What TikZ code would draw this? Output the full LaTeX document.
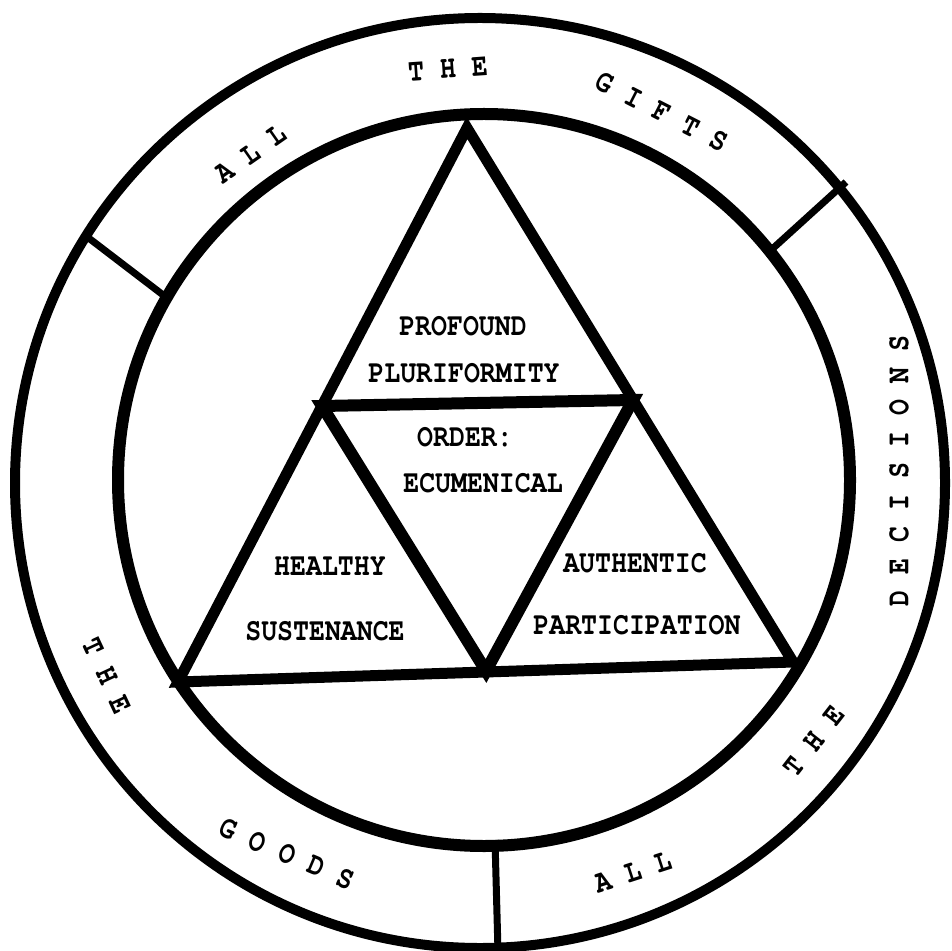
\documentclass[tikz,border=0pt]{standalone}
\usepackage{fontspec}
\newfontfamily\labelfont[FakeStretch=0.83]{TeX Gyre Cursor}
\newfontfamily\ringfont[FakeStretch=0.83]{TeX Gyre Cursor}
\begin{document}
\begin{tikzpicture}[x=0.5pt,y=-0.5pt,
  ringline/.style={draw=black,line width=5pt},
  innerline/.style={draw=black,line width=6pt},
  triline/.style={draw=black,line width=5.5pt,line join=miter},
  midline/.style={draw=black,line width=6pt,line join=miter},
  divider/.style={draw=black,line width=3.5pt},
  lbl/.style={font=\labelfont\bfseries\fontsize{16}{18}\selectfont,inner sep=0pt},
  rtxt/.style={font=\ringfont\bfseries\fontsize{16}{18}\selectfont,inner sep=0pt}]
\useasboundingbox (0,0) rectangle (951,951);
\fill[white] (0,0) rectangle (951,951);
% centres
\coordinate (oc) at (480,483);
\coordinate (ic) at (484,480);
% dividers between the two circles
\coordinate (d1o) at (86,236);  \coordinate (d1i) at (171,301);
\coordinate (d2o) at (846,182); \coordinate (d2i) at (770,251);
\coordinate (d3o) at (498,952); \coordinate (d3i) at (495,840);
\draw[divider] (d1o) -- (d1i);
\draw[divider] (d2o) -- (d2i);
\draw[divider] (d3o) -- (d3i);
% circles
\draw[ringline] (oc) circle (465);
\draw[innerline] (ic) circle (366);
% big triangle
\coordinate (ta) at (467,128);
\coordinate (tl) at (178,682);
\coordinate (tr) at (793,662);
\draw[triline] (ta) -- (tl) -- (tr) -- cycle;
% middle triangle
\coordinate (ml) at (322,406);
\coordinate (mr) at (633,400);
\coordinate (mb) at (486,671);
\draw[midline] (ml) -- (mr) -- (mb) -- cycle;
% labels
\node[lbl] (profound) at (463,326) {PROFOUND};
\node[lbl] (pluri) at (464,373) {PLURIFORMITY};
\node[lbl] (order) at (465,437) {ORDER:};
\node[lbl] (ecum) at (483,483) {ECUMENICAL};
\node[lbl] (healthy) at (330,566) {HEALTHY};
\node[lbl] (susten) at (325,631) {SUSTENANCE};
\node[lbl] (authentic) at (635,563) {AUTHENTIC};
\node[lbl] (partic) at (637,625) {PARTICIPATION};
% ring texts
\node[rtxt,rotate=35] (allone) at (251,154) {A L L};
\node[rtxt,rotate=4] (theone) at (448,69) {T H E};
\node[rtxt,rotate=-27] (gifts) at (662,112) {G I F T S};
\node[rtxt,rotate=-65] (thetwo) at (107,676) {T H E};
\node[rtxt,rotate=-23] (goods) at (287,854) {G O O D S};
\node[rtxt,rotate=18] (alltwo) at (633,872) {A L L};
\node[rtxt,rotate=52] (thethree) at (814,741) {T H E};
\node[rtxt,rotate=90] (decisions) at (899,471) {D E C I S I O N S};
\end{tikzpicture}
\end{document}
